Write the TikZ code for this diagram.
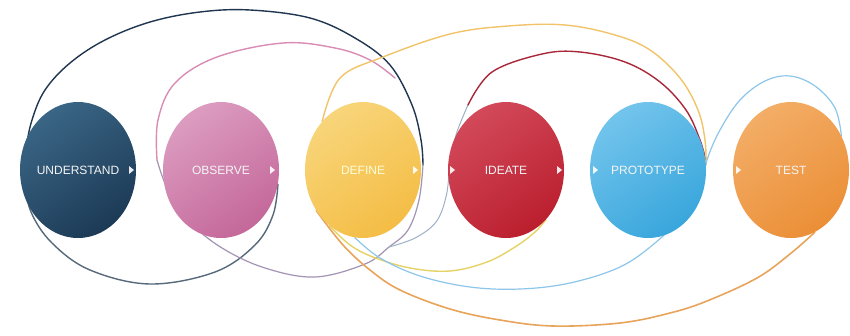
\documentclass[tikz,border=0pt]{standalone}
\usepackage{fontspec}
\setmainfont{Liberation Sans}
\usetikzlibrary{shapes.geometric}
\pgfdeclarelayer{bg}
\pgfsetlayers{bg,main}
\definecolor{navy}{HTML}{1C3A56}\definecolor{navyl}{HTML}{3A6585}
\definecolor{pinkb}{HTML}{C4689A}\definecolor{pinkl}{HTML}{DC9CC0}
\definecolor{yelb}{HTML}{F4BD45}\definecolor{yell}{HTML}{F8D57A}
\definecolor{redb}{HTML}{BB1F2E}\definecolor{redl}{HTML}{D2495A}
\definecolor{blub}{HTML}{39A6DC}\definecolor{blul}{HTML}{72C4EC}
\definecolor{orab}{HTML}{EB8F37}\definecolor{oral}{HTML}{F3AD66}
\definecolor{cD1}{HTML}{56697A}\definecolor{cD2}{HTML}{1F3550}
\definecolor{cD3}{HTML}{A394B4}\definecolor{cD4}{HTML}{D98DB4}
\definecolor{cRl}{HTML}{9DB0C8}\definecolor{cR}{HTML}{A8283A}
\definecolor{cY1}{HTML}{F1C46A}\definecolor{cY2}{HTML}{E6D366}
\definecolor{cB}{HTML}{8CC6EA}\definecolor{cO}{HTML}{E9A45C}
\begin{document}
\begin{tikzpicture}[x=1pt,y=-1pt,
  loopline/.style={line width=1.4pt, line cap=round},
  stage/.style={ellipse, minimum width=116pt, minimum height=136pt, inner sep=0pt,
    text=white!92!gray, font=\fontsize{12}{14}\selectfont},
  disc/.style={x radius=58pt, y radius=68pt},
  tri/.style={fill=white, fill opacity=0.9}]
\useasboundingbox (0,0) rectangle (850,335);
% stage discs
\shade[top color=navyl, bottom color=navy, shading angle=35] (78,170) ellipse [disc];
\shade[top color=pinkl, bottom color=pinkb, shading angle=35] (221,170) ellipse [disc];
\shade[top color=yell, bottom color=yelb, shading angle=35] (363,170) ellipse [disc];
\shade[top color=redl, bottom color=redb, shading angle=35] (506,170) ellipse [disc];
\shade[top color=blul, bottom color=blub, shading angle=35] (648,170) ellipse [disc];
\shade[top color=oral, bottom color=orab, shading angle=35] (791,170) ellipse [disc];
% stage nodes (labels)
\node[stage] (u) at (78,170) {UNDERSTAND};
\node[stage] (o) at (221,170) {OBSERVE};
\node[stage, text=white!85!yellow] (d) at (363,170) {DEFINE};
\node[stage] (i) at (506,170) {IDEATE};
\node[stage] (p) at (648,170) {PROTOTYPE};
\node[stage] (t) at (791,170) {TEST};
% small arrows
\foreach \x in {131,272,415,452,559,595,738}
  \fill[tri] (\x-2,166) -- (\x+3,170) -- (\x-2,174) -- cycle;
\coordinate (pinkend) at (395,78);
\coordinate (merge) at (389,247);
\begin{pgfonlayer}{bg}
\fill[white] (0,0) rectangle (850,335);
% dark / pink spiral
\draw[loopline, cD1] plot[smooth, tension=0.6] coordinates {(o.-14) (273,215) (255,245) (215,272) (150,284) (90,270) (52,243) (31,212) (24,180)};
\draw[loopline, cD2] plot[smooth, tension=0.6] coordinates {(24,180) (26,150) (32,120) (45,90) (70,63) (105,40) (150,22) (200,12) (250,10) (310,18) (355,38) (390,65) (412,105) (421,140) (423,165)};
\draw[loopline, cD3, line width=1.2pt] plot[smooth, tension=0.6] coordinates {(423,165) (419,200) (408,230) (merge) (365,264) (315,277) (265,268) (222,248) (190,222) (168,190) (157,160)};
\draw[loopline, cD4] plot[smooth, tension=0.6] coordinates {(157,160) (158,120) (175,83) (217,57) (283,43) (335,48) (370,60) (pinkend)};
% ideate loop
\draw[loopline, cRl, line width=1pt] plot[smooth, tension=0.6] coordinates {(merge) (415,238) (436,222) (446,197) (450,167) (456,135) (468,105)};
\draw[loopline, cR] plot[smooth, tension=0.6] coordinates {(468,105) (492,72) (542,54) (580,52) (625,62) (660,82) (686,110) (700,140) (p.10)};
% define loops
\draw[loopline, cY1] plot[smooth, tension=0.6] coordinates {(d.130) (340,78) (383,57) (450,34) (508,26) (565,25) (615,35) (650,50) (680,78) (698,110) (705,140) (p.5)};
\draw[loopline, cY2] plot[smooth, tension=0.6] coordinates {(d.-121) (350,245) (373,257) (410,268) (450,271) (487,262) (515,247) (535,232) (i.-51)};
\draw[loopline, cB, line width=1.2pt] plot[smooth, tension=0.6] coordinates {(d.-97) (380,258) (420,276) (470,287) (520,289) (570,283) (620,267) (655,243) (683,215) (700,190) (707,160) (720,130) (740,100) (765,81) (790,76) (815,86) (835,108) (t.34)};
\draw[loopline, cO, line width=1.6pt] plot[smooth, tension=0.6] coordinates {(d.221) (343,245) (370,270) (400,290) (450,309) (500,320) (553,326) (620,323) (670,313) (707,301) (757,278) (790,254) (t.-69)};
\end{pgfonlayer}
\end{tikzpicture}
\end{document}
